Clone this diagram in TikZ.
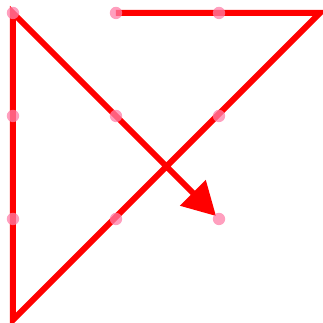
\documentclass[tikz,border=0pt]{standalone}
\usepackage{xcolor}
\usepackage{tikz}
\usetikzlibrary{arrows.meta,positioning,calc}
\definecolor{pen}{HTML}{FF0000}
\definecolor{dotpink}{HTML}{FF7FA8}
\tikzset{
  dotnode/.style={circle,fill=dotpink,inner sep=0pt,minimum size=0.12cm,opacity=0.75},
  penline/.style={pen,line width=0.058cm,line join=miter}
}
\begin{document}
\begin{tikzpicture}
  \useasboundingbox (-0.126,-3.01) rectangle (3.01,0.126);
  \coordinate (tr) at (2.98,0);
  \coordinate (bl) at (0,-2.98);
  \foreach \i in {0,1,2}
    \foreach \j in {0,1,2}
      \coordinate (p-\i-\j) at (\i,-\j);
  \draw[penline,-{Triangle[length=0.32cm,width=0.34cm]},shorten >=0.04cm]
    (p-1-0) -- (tr) -- (bl) -- (p-0-0) -- (p-2-2);
  \foreach \i in {0,1,2}
    \foreach \j in {0,1,2}
      \node[dotnode] (d-\i-\j) at (p-\i-\j) {};
\end{tikzpicture}
\end{document}
